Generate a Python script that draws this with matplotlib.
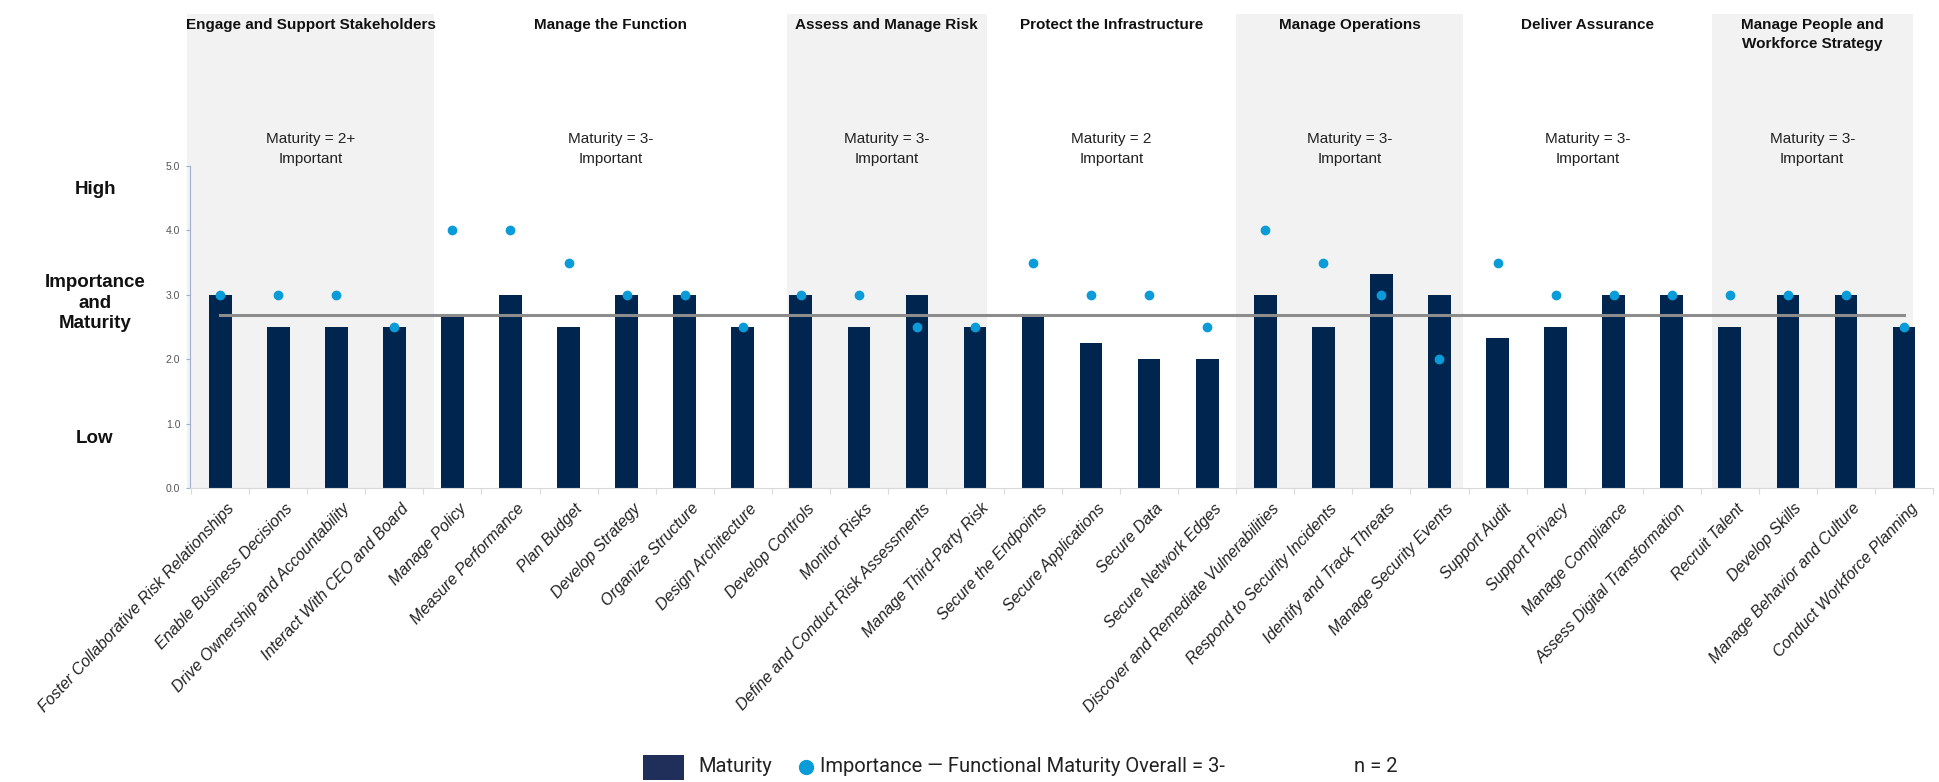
import matplotlib
matplotlib.use("Agg")
import matplotlib.pyplot as plt
from matplotlib.patches import Rectangle
from matplotlib.lines import Line2D
import matplotlib.transforms as mtransforms

# categories in chart order
capabilities = [
    "Foster Collaborative Risk Relationships", "Enable Business Decisions",
    "Drive Ownership and Accountability", "Interact With CEO and Board",
    "Manage Policy", "Measure Performance", "Plan Budget", "Develop Strategy",
    "Organize Structure", "Design Architecture",
    "Develop Controls", "Monitor Risks", "Define and Conduct Risk Assessments",
    "Manage Third-Party Risk",
    "Secure the Endpoints", "Secure Applications", "Secure Data", "Secure Network Edges",
    "Discover and Remediate Vulnerabilities", "Respond to Security Incidents",
    "Identify and Track Threats", "Manage Security Events",
    "Support Audit", "Support Privacy", "Manage Compliance", "Assess Digital Transformation",
    "Recruit Talent", "Develop Skills", "Manage Behavior and Culture",
    "Conduct Workforce Planning",
]
maturity = [3.0, 2.5, 2.5, 2.5,
            2.67, 3.0, 2.5, 3.0, 3.0, 2.5,
            3.0, 2.5, 3.0, 2.5,
            2.67, 2.25, 2.0, 2.0,
            3.0, 2.5, 3.33, 3.0,
            2.33, 2.5, 3.0, 3.0,
            2.5, 3.0, 3.0, 2.5]
importance = [3.0, 3.0, 3.0, 2.5,
              4.0, 4.0, 3.5, 3.0, 3.0, 2.5,
              3.0, 3.0, 2.5, 2.5,
              3.5, 3.0, 3.0, 2.5,
              4.0, 3.5, 3.0, 2.0,
              3.5, 3.0, 3.0, 3.0,
              3.0, 3.0, 3.0, 2.5]
overall = 2.69

groups = ["Engage and Support Stakeholders", "Manage the Function", "Assess and Manage Risk",
          "Protect the Infrastructure", "Manage Operations", "Deliver Assurance",
          "Manage People and\nWorkforce Strategy"]
group_maturity = ["2+", "3-", "3-", "2", "3-", "3-", "3-"]
group_edges = [-0.58, 3.69, 9.76, 13.2, 17.5, 21.41, 25.69, 29.15]

NAVY = "#00264F"
BLUE = "#0A9CD8"
BAND = "#F2F2F2"
NARROW = ["Liberation Sans Narrow", "Liberation Sans", "DejaVu Sans"]
ARIAL = ["Liberation Sans", "DejaVu Sans"]

fig = plt.figure(figsize=(19.39, 7.82), dpi=100)
ax = fig.add_axes([190 / 1939, 1 - 488 / 782, (1933 - 190) / 1939, 322 / 782])

x = list(range(len(capabilities)))
trans = mtransforms.blended_transform_factory(ax.transData, ax.transAxes)
band_top = (782 - 14 - 294) / 322
for i, name in enumerate(groups):
    x0, x1 = group_edges[i], group_edges[i + 1]
    if i % 2 == 0:
        ax.add_patch(Rectangle((x0, 0), x1 - x0, band_top, transform=trans,
                               facecolor=BAND, edgecolor="none", clip_on=False, zorder=0))
    xc = (x0 + x1) / 2
    ax.text(xc, (782 - 18 - 294) / 322, name, transform=trans, ha="center", va="top",
            fontsize=11, fontweight="bold", family=NARROW, color="#111111", linespacing=1.45)
    ax.text(xc, (782 - 149 - 294) / 322, "Maturity = {}\nImportant".format(group_maturity[i]),
            transform=trans, ha="center", va="center", fontsize=11, family=NARROW,
            color="#222222", linespacing=1.55)

ax.bar(x, maturity, width=0.39, color=NAVY, zorder=2)
ax.plot([x[0], x[-1]], [overall, overall], color="#8C8C8C", lw=2.2, zorder=3)
ax.plot(x, importance, "o", color=BLUE, markersize=6, zorder=4)

ax.set_xlim(-0.52, 29.4)
ax.set_ylim(0, 5)
ax.patch.set_alpha(0)
for s in ["top", "right"]:
    ax.spines[s].set_visible(False)
ax.spines["left"].set_color("#9FB0CC")
ax.spines["bottom"].set_color("#D9D9D9")
ax.set_yticks([0, 1, 2, 3, 4, 5])
ax.set_yticklabels(["0.0", "1.0", "2.0", "3.0", "4.0", "5.0"], family=NARROW,
                   fontsize=7.5, color="#555555")
ax.tick_params(axis="y", length=3, color="#9FB0CC", pad=4)
ax.set_xticks([i + 0.5 for i in range(-1, len(capabilities))], minor=False)
ax.set_xticklabels([])
ax.tick_params(axis="x", length=4, color="#D9D9D9")
for i, name in enumerate(capabilities):
    ax.text(i + 0.1, -0.2, name, ha="right", va="top", rotation=47,
            rotation_mode="anchor", fontsize=11.5, style="italic", family=ARIAL,
            color="#222222")

# left-hand scale words
for txt, yy in [("High", 189), ("Importance\nand\nMaturity", 303), ("Low", 439)]:
    fig.text(95 / 1939, 1 - yy / 782, txt, ha="center", va="center", fontsize=13.5,
             fontweight="bold", family=ARIAL, color="#111111", linespacing=1.25)

# legend along the bottom
ly = 1 - 767 / 782
fig.patches.append(Rectangle((643 / 1939, 1 - 780 / 782), 41 / 1939, 25 / 782,
                             transform=fig.transFigure, facecolor="#1F2F5A", edgecolor="none"))
fig.text(698 / 1939, ly, "Maturity", ha="left", va="center", fontsize=14.5,
         family=["Roboto", "DejaVu Sans"], color="#222222")
fig.lines.append(Line2D([806 / 1939], [ly], marker="o", color=BLUE, markersize=10,
                        transform=fig.transFigure))
fig.text(820 / 1939, ly, "Importance \u2014 Functional Maturity Overall = 3-", ha="left",
         va="center", fontsize=14.5, family=["Roboto", "DejaVu Sans"], color="#222222")
fig.text(1354 / 1939, ly, "n = 2", ha="left", va="center", fontsize=14.5,
         family=["Roboto", "DejaVu Sans"], color="#222222")

fig.savefig("out.png", dpi=100)
